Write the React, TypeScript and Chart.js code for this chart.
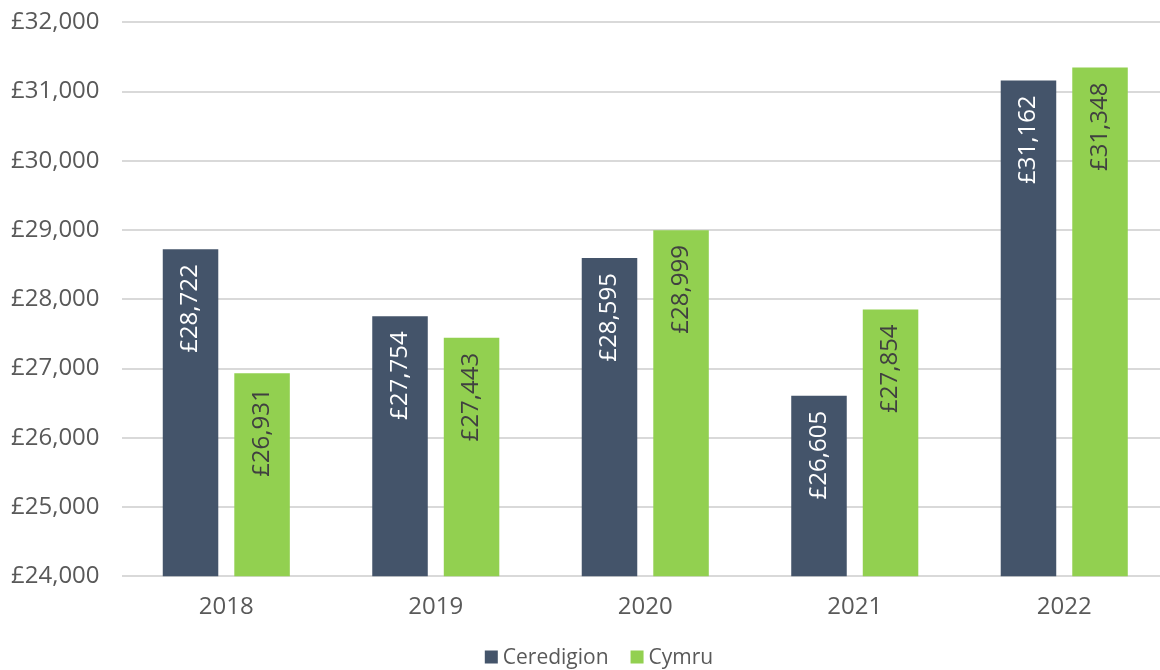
import React, { useEffect, useRef } from "react";
import { Chart, registerables } from "chart.js";

Chart.register(...registerables);

const categories = ["2018", "2019", "2020", "2021", "2022"];
const ceredigion = [28722, 27754, 28595, 26605, 31162];
const cymru = [26931, 27443, 28999, 27854, 31348];
const seriesNames = ["Ceredigion", "Cymru"];
const seriesColors = ["#44546A", "#92D050"];
const yMin = 24000;
const yMax = 32000;
const yStep = 1000;

const FONT = "'Open Sans', sans-serif";
const TEXT = "#595959";
const SHIFT_X = 21;
const SHIFT_Y = 14;

const fmt = (v: number) => "£" + v.toLocaleString("en-GB");

const barLabels = {
  id: "barLabels",
  afterDatasetsDraw(chart: any) {
    const ctx = chart.ctx;
    chart.data.datasets.forEach((ds: any, di: number) => {
      const meta = chart.getDatasetMeta(di);
      meta.data.forEach((el: any, i: number) => {
        const v = ds.data[i];
        ctx.save();
        ctx.translate(el.x, el.y + 15);
        ctx.rotate(-Math.PI / 2);
        ctx.font = `24px ${FONT}`;
        ctx.fillStyle = di === 0 ? "#ffffff" : "#404040";
        ctx.textAlign = "right";
        ctx.textBaseline = "middle";
        ctx.fillText(fmt(v), 0, 0);
        ctx.restore();
      });
    });
  },
};

const customLegend = {
  id: "customLegend",
  afterDraw(chart: any) {
    const ctx = chart.ctx;
    ctx.save();
    ctx.font = `21px ${FONT}`;
    const box = 13;
    const gapText = 5;
    const gapItem = 22;
    const items = chart.data.datasets.map((d: any) => ({
      label: d.label,
      color: d.backgroundColor,
      w: ctx.measureText(d.label).width,
    }));
    const total = items.reduce((s: number, it: any) => s + box + gapText + it.w, 0) + gapItem * (items.length - 1);
    const cx = 599 + SHIFT_X;
    const cy = 657 + SHIFT_Y;
    let x = cx - total / 2;
    items.forEach((it: any) => {
      ctx.fillStyle = it.color;
      ctx.fillRect(x, cy - box / 2, box, box);
      x += box + gapText;
      ctx.fillStyle = TEXT;
      ctx.textAlign = "left";
      ctx.textBaseline = "middle";
      ctx.fillText(it.label, x, cy + 1);
      x += it.w + gapItem;
    });
    ctx.restore();
  },
};

export default function App() {
  const ref = useRef<HTMLCanvasElement>(null);
  useEffect(() => {
    if (!ref.current) return;
    const chart = new Chart(ref.current, {
      type: "bar",
      data: {
        labels: categories,
        datasets: [
          {
            label: seriesNames[0],
            data: ceredigion,
            backgroundColor: seriesColors[0],
            categoryPercentage: 0.683,
            barPercentage: 0.776,
          },
          {
            label: seriesNames[1],
            data: cymru,
            backgroundColor: seriesColors[1],
            categoryPercentage: 0.683,
            barPercentage: 0.776,
          },
        ],
      },
      options: {
        responsive: false,
        animation: false,
        layout: { padding: { left: 10, top: 8, right: 0, bottom: 31 } },
        scales: {
          x: {
            grid: { display: false, drawTicks: false },
            border: { display: false },
            ticks: { color: TEXT, font: { family: FONT, size: 24 }, padding: 17 },
          },
          y: {
            min: yMin,
            max: yMax,
            grid: { color: "#d9d9d9", lineWidth: 2, drawTicks: false },
            border: { display: false },
            ticks: {
              stepSize: yStep,
              color: TEXT,
              font: { family: FONT, size: 24 },
              padding: 22,
              callback: (v: any) => fmt(Number(v)),
            },
          },
        },
        plugins: {
          legend: { display: false },
          tooltip: { enabled: false },
        },
      },
      plugins: [barLabels, customLegend],
    });
    return () => chart.destroy();
  }, []);
  return (
    <div
      style={{
        position: "fixed",
        top: 0,
        left: 0,
        width: 1160,
        height: 670,
        overflow: "hidden",
        background: "#fff",
      }}
    >
      <canvas
        ref={ref}
        width={1190}
        height={684}
        style={{ display: "block", position: "absolute", left: -SHIFT_X, top: -SHIFT_Y }}
      />
    </div>
  );
}
